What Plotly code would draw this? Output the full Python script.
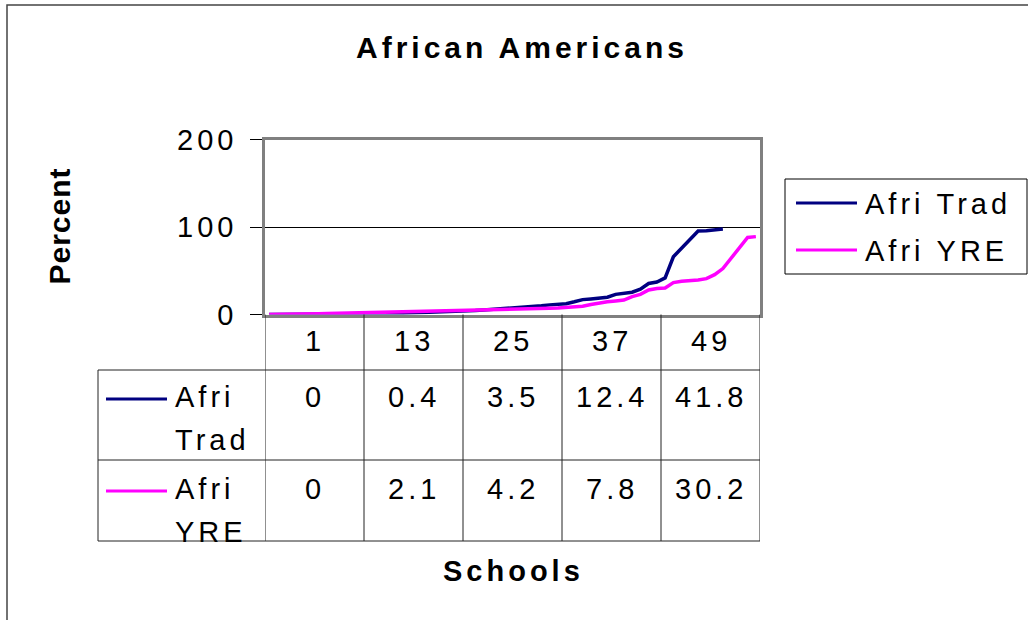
import plotly.graph_objects as go

# ---------------------------------------------------------------- data
schools = list(range(1, 61))

afri_trad = [
    0, 0, 0, 0, 0, 0, 0.1, 0.1, 0.2, 0.2, 0.3, 0.3,
    0.4, 0.6, 0.8, 1.0, 1.3, 1.6, 1.9, 2.2, 2.5, 2.8, 3.0, 3.2,
    3.5, 4.5, 5.2, 5.8, 6.3, 6.8, 7.3, 8.0, 8.8, 10.0, 11.0, 11.8,
    12.4, 14.5, 17.0, 17.8, 18.5, 19.8, 23.0, 24.2, 25.5, 29.0, 35.5, 37.2,
    41.8, 66.0, 75.5, 85.0, 95.5, 95.8, 96.5, 97.6,
]

afri_yre = [
    0, 0, 0, 0.2, 0.4, 0.6, 0.8, 1.0, 1.2, 1.4, 1.6, 1.9,
    2.1, 2.3, 2.5, 2.7, 2.9, 3.1, 3.3, 3.5, 3.6, 3.8, 3.9, 4.0,
    4.2, 4.5, 4.8, 5.0, 5.3, 5.6, 5.9, 6.2, 6.5, 6.8, 7.1, 7.4,
    7.8, 8.5, 9.5, 11.5, 13.5, 14.5, 15.5, 16.5, 20.5, 23.0, 28.0, 29.8,
    30.2, 36.5, 38.0, 38.3, 39.5, 41.0, 45.5, 52.5, 64.0, 76.0, 88.0, 89.0,
]

series_names = ["Afri Trad", "Afri YRE"]
series_values = [afri_trad, afri_yre]
series_colors = ["#000080", "#FF00FF"]

y_ticks = [0, 100, 200]
table_step = 12          # one data-table column per 12 schools

chart_title = "African Americans"
x_title = "Schools"
y_title = "Percent"

# ---------------------------------------------------------------- layout helpers
W, H = 1028, 620
FONT = "Liberation Sans, Arial, sans-serif"
FS = 29


def px(x):
    return x / W


def py(y):
    return 1 - y / H


PLOT_L, PLOT_R, PLOT_T, PLOT_B = 265, 760, 139.5, 314.5
TABLE_L = 98
ROW_LINES = [370, 460, 541]          # bottom edges of the three table rows
ROW_CENTERS = [341, 397, 489]        # category row, then one row per series
LEGEND_BOX = (785, 1027, 179, 274)   # left, right, top, bottom
LEGEND_ROWS = [204, 251]

fig = go.Figure()

for name, vals, color in zip(series_names, series_values, series_colors):
    fig.add_trace(go.Scatter(
        x=schools[:len(vals)], y=vals, mode="lines", name=name,
        showlegend=False,
        line=dict(color=color, width=3.5),
    ))

shapes = []
annotations = []


def text_note(x, y, text, xref="paper", xanchor="center", size=FS, **kw):
    annotations.append(dict(x=x, y=y, xref=xref, yref="paper", text=text,
                            showarrow=False, xanchor=xanchor, yanchor="middle",
                            align="left" if xanchor == "left" else "center",
                            font=dict(family=FONT, size=size, color="black"), **kw))


# outer chart border (only left/top edges fall inside the page)
shapes.append(dict(type="rect", xref="paper", yref="paper",
                   x0=px(7), x1=px(1100), y0=py(700), y1=py(5),
                   line=dict(color="#444444", width=1.5)))

# data table grid: vertical column boundaries
n_cols = len(schools) // table_step
bounds = [0.5 + k * table_step for k in range(n_cols + 1)]
for b in bounds:
    shapes.append(dict(type="line", xref="x", yref="paper",
                       x0=b, x1=b, y0=py(PLOT_B), y1=py(ROW_LINES[-1]),
                       line=dict(color="#222222", width=1)))
# row-header column left edge
shapes.append(dict(type="line", xref="paper", yref="paper",
                   x0=px(TABLE_L), x1=px(TABLE_L),
                   y0=py(ROW_LINES[0]), y1=py(ROW_LINES[-1]),
                   line=dict(color="#222222", width=1)))
# horizontal row lines
for yl in ROW_LINES:
    shapes.append(dict(type="line", xref="paper", yref="paper",
                       x0=px(TABLE_L), x1=px(PLOT_R), y0=py(yl), y1=py(yl),
                       line=dict(color="#222222", width=1)))

# category labels row and value rows
col_centers = [b + table_step / 2 for b in bounds[:-1]]
col_first = [schools[k * table_step] for k in range(n_cols)]
for c, s in zip(col_centers, col_first):
    text_note(c, py(ROW_CENTERS[0]), str(s), xref="x")
for r, (name, vals, color) in enumerate(zip(series_names, series_values, series_colors)):
    yc = ROW_CENTERS[r + 1]
    for k, c in enumerate(col_centers):
        text_note(c, py(yc), f"{vals[k * table_step]:g}", xref="x")
    # legend key inside the row header
    shapes.append(dict(type="line", xref="paper", yref="paper",
                       x0=px(106), x1=px(167), y0=py(yc + 2), y1=py(yc + 2),
                       line=dict(color=color, width=3)))
    for j, word in enumerate(name.split(" ")):
        text_note(px(173), py(yc + j * 43), word, xanchor="left")

# legend box to the right of the plot
lx0, lx1, ly0, ly1 = LEGEND_BOX
shapes.append(dict(type="rect", xref="paper", yref="paper",
                   x0=px(lx0), x1=px(lx1), y0=py(ly1), y1=py(ly0),
                   line=dict(color="black", width=1), fillcolor="white", layer="below"))
for name, color, yr in zip(series_names, series_colors, LEGEND_ROWS):
    shapes.append(dict(type="line", xref="paper", yref="paper",
                       x0=px(796), x1=px(857), y0=py(yr - 1), y1=py(yr - 1),
                       line=dict(color=color, width=3)))
    text_note(px(863), py(yr), name.replace(" ", "\u00a0"), xanchor="left")

# titles
text_note(px(522), py(47), f"<b>{chart_title}</b>", size=30)
text_note(px(513), py(571), f"<b>{x_title}</b>")
text_note(px(59), py(226), f"<b>{y_title}</b>", size=30, textangle=-90)

fig.update_layout(
    width=W, height=H,
    margin=dict(l=0, r=0, t=0, b=0, autoexpand=False),
    paper_bgcolor="white", plot_bgcolor="white",
    font=dict(family=FONT, size=FS, color="black"),
    showlegend=False,
    xaxis=dict(
        domain=[px(PLOT_L), px(PLOT_R)], range=[0.5, len(schools) + 0.5],
        showticklabels=False, ticks="", showgrid=False, zeroline=False,
        showline=True, linecolor="#808080", linewidth=2.5, mirror=True,
        fixedrange=True, automargin=False,
    ),
    yaxis=dict(
        domain=[py(PLOT_B), py(PLOT_T)], range=[0, 200],
        tickvals=y_ticks, ticktext=[str(t) for t in y_ticks],
        ticks="outside", ticklen=12, tickwidth=1, tickcolor="black",
        ticklabelstandoff=7,
        tickfont=dict(family=FONT, size=FS, color="black"),
        showgrid=True, gridcolor="black", gridwidth=1, zeroline=False,
        showline=True, linecolor="#808080", linewidth=2.5, mirror=True,
        fixedrange=True, automargin=False,
    ),
    shapes=shapes,
    annotations=annotations,
)

# wide character tracking for the chart text; the vertical axis title stays tight
tracking_js = (
    "var s=document.createElement('style');"
    "s.textContent='.main-svg text{letter-spacing:4px;}"
    " .main-svg g[transform*=\"rotate(-90\"] text{letter-spacing:1px;}';"
    "document.head.appendChild(s);"
)

fig.write_html("out.html", post_script=tracking_js)
